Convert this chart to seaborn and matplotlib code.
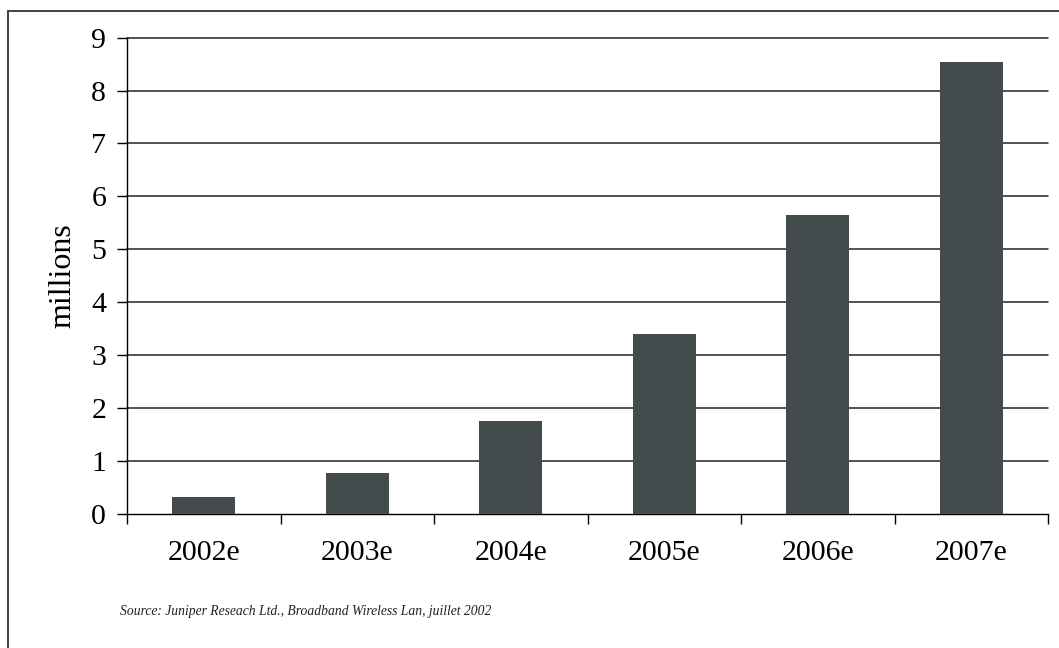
import numpy as np
import matplotlib.pyplot as plt
import seaborn as sns
import pandas as pd
from matplotlib.patches import Rectangle

years = ["2002e", "2003e", "2004e", "2005e", "2006e", "2007e"]
millions = [0.32, 0.77, 1.75, 3.40, 5.65, 8.54]
yticks = [0, 1, 2, 3, 4, 5, 6, 7, 8, 9]

sns.set_theme(style="white")
plt.rcParams['font.family'] = ['Liberation Serif', 'DejaVu Serif']

df = pd.DataFrame({"year": years, "val": millions})

fig = plt.figure(figsize=(10.59, 6.48), dpi=100)
ax = fig.add_axes([0.1200, 0.2073, 0.8697, 0.7345])

sns.barplot(data=df, x="year", y="val", color="#434b4d", width=0.41,
            saturation=1, linewidth=0, ax=ax, zorder=3)

ax.set_ylim(0, 9)
ax.set_xlim(-0.5, 5.5)
ax.set_yticks(yticks)
ax.set_yticklabels([str(t) for t in yticks])
for t in yticks[1:]:
    ax.axhline(t, color="#222222", lw=1.1, zorder=1, clip_on=False)

# category ticks sit between bars
ax.set_xticks(np.arange(-0.5, 6.0, 1.0), minor=True)
ax.tick_params(axis="x", which="minor", length=7, width=1, color="black", direction="out", bottom=True)
ax.tick_params(axis="x", which="major", length=0, pad=19, labelsize=21.5, colors="black")
ax.tick_params(axis="y", length=7, width=1, color="black", direction="out", pad=8, labelsize=21.5, colors="black", left=True)

for s in ["top", "right"]:
    ax.spines[s].set_visible(False)
for s in ["left", "bottom"]:
    ax.spines[s].set_color("black")
    ax.spines[s].set_linewidth(1)

ax.set_xlabel("")
ax.set_ylabel("millions", fontsize=23, color="black", labelpad=10)

fig.text(0.113, 1 - 611 / 648, "Source: Juniper Reseach Ltd., Broadband Wireless Lan, juillet 2002",
         fontsize=9.8, style="italic", color="#222222", va="center", ha="left")

fig.patches.append(Rectangle((8 / 1059, -0.05), 1.1, 1 - 11 / 648 + 0.05,
                             transform=fig.transFigure, fill=False,
                             edgecolor="#333333", lw=1.3, figure=fig))

fig.savefig("out.png", dpi=100)
